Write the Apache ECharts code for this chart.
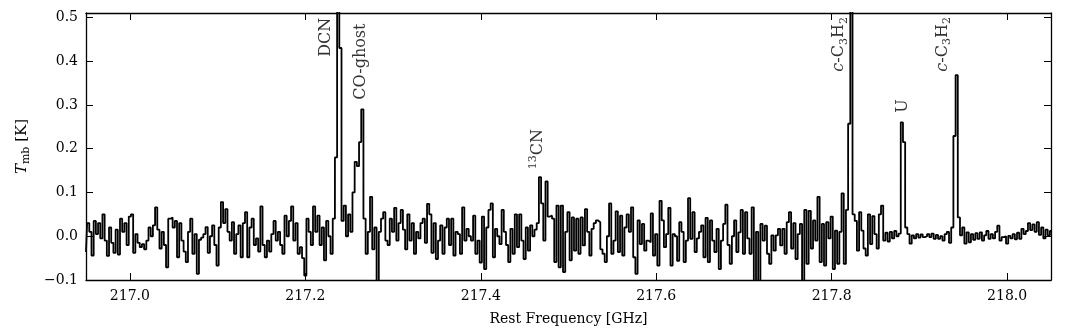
<!DOCTYPE html>
<html>
<head>
<meta charset="utf-8">
<script src="https://cdn.jsdelivr.net/npm/echarts@6/dist/echarts.min.js"></script>
<style>
  html, body { margin: 0; padding: 0; background: #fff; }
  #spectrum { width: 1072px; height: 331px; }
</style>
</head>
<body>
<div id="spectrum"></div>
<script>
// channel grid of the spectrum (GHz)
var freqStart = 216.95;
var channelWidth = 0.0025;

// main-beam temperature per channel (K)
var tmb = [
  -0.036, 0.030, 0.010, -0.044, 0.035, 0.005, 0.030, -0.005, 0.050, -0.010,
  -0.045, 0.020, -0.015, -0.038, 0.015, -0.042, 0.040, 0.010, 0.030, -0.020,
  0.045, 0.050, -0.038, 0.005, -0.015, -0.025, -0.018, -0.030, -0.010, 0.020,
  0.000, 0.025, 0.066, 0.015, -0.028, 0.010, -0.020, -0.071, 0.040, 0.043,
  0.020, 0.035, -0.048, 0.030, -0.010, -0.035, -0.059, 0.010, 0.040, -0.040,
  0.005, -0.086, -0.008, -0.003, 0.005, 0.021, -0.038, 0.000, 0.025, -0.020,
  -0.067, 0.020, 0.078, 0.030, 0.062, 0.010, -0.010, 0.032, -0.040, 0.005,
  0.025, -0.048, 0.030, 0.055, -0.048,
  0.020, 0.040, -0.020, -0.005, -0.035, 0.068, -0.020, -0.048, -0.010, -0.035,
  0.005, 0.035, -0.010, 0.010, -0.020, -0.040, 0.047, 0.000, 0.035, 0.068,
  -0.010, 0.030, -0.040, -0.025, -0.050, -0.090, 0.040, 0.010, -0.020, 0.068,
  0.010, 0.047, -0.020, 0.020, -0.055, 0.035, 0.000, -0.040, 0.040, 0.180,
  0.650, 0.430, 0.035, 0.070, 0.000, 0.050, 0.010, 0.100, 0.170, 0.160,
  0.215, 0.290, 0.040, -0.040, 0.010, 0.090, -0.030, 0.020, -0.130, 0.010,
  0.040, 0.055, -0.010, -0.020, 0.040, 0.010, 0.065, -0.010, 0.030, 0.060,
  0.015, -0.030, 0.050, -0.010, 0.030,
  -0.040, 0.010, -0.005, 0.030, 0.040, -0.015, 0.074, 0.050, -0.038, 0.030,
  -0.052, -0.010, 0.025, -0.040, 0.020, 0.040, -0.020, 0.040, -0.044, 0.010,
  0.005, -0.040, 0.066, -0.010, 0.017, 0.000, -0.010, 0.047, -0.040, -0.010,
  -0.060, 0.045, -0.075, 0.020, 0.060, 0.075, -0.048, 0.017, 0.000, -0.018,
  0.060, 0.010, -0.020, -0.059, 0.017, -0.040, 0.050, -0.025, 0.050, -0.010,
  -0.052, 0.020, -0.033, 0.025, 0.000, 0.015, 0.030, 0.135, 0.075, -0.010,
  0.125, 0.045, 0.047, 0.040, -0.059, 0.070, -0.071, 0.070, -0.082, 0.010,
  0.055, -0.055, 0.043, -0.033,
  0.040, -0.040, 0.043, -0.021, 0.062, 0.010, -0.044, 0.017, 0.030, 0.036,
  0.032, -0.030, -0.040, -0.059, 0.000, 0.075, -0.040, -0.010, 0.057, -0.036,
  0.047, -0.044, 0.020, 0.050, 0.010, 0.066, -0.048, -0.086, 0.036, -0.018,
  0.028, -0.033, -0.010, -0.014, 0.052, -0.044, 0.005, -0.067, 0.081, 0.036,
  -0.025, 0.005, 0.065, -0.067, 0.005, 0.000, -0.056, 0.032, 0.010, -0.059,
  -0.010, 0.087, -0.006, 0.055, -0.036, -0.005, 0.010, 0.025, -0.048, 0.042,
  -0.059, 0.036, -0.010, -0.036, 0.017, -0.075, -0.010, 0.028, 0.072, -0.020,
  -0.063, 0.000, 0.036, -0.036, 0.009,
  0.060, -0.040, 0.055, -0.005, -0.040, 0.066, -0.120, 0.010, -0.120, 0.028,
  -0.010, 0.024, -0.040, -0.063, 0.002, -0.033, 0.002, 0.017, -0.021, 0.017,
  -0.040, 0.032, 0.055, -0.028, 0.030, -0.052, 0.005, 0.028, -0.115, 0.060,
  -0.063, 0.058, -0.028, 0.036, -0.010, 0.090, -0.059, 0.028, -0.067, 0.032,
  -0.005, 0.045, -0.075, 0.013, -0.063, 0.010, 0.098, -0.063, 0.060, 0.257,
  0.700, 0.050, 0.035, -0.033, 0.055, 0.013, -0.028, -0.044, 0.050, -0.018,
  0.046, 0.005, -0.028, 0.050, 0.070, -0.010, 0.008, -0.012, 0.010, -0.005,
  0.012, 0.000, 0.006, 0.260, 0.215,
  0.020, 0.005, -0.017, 0.002, -0.005, 0.005, -0.003, 0.004, -0.002, 0.000,
  0.005, -0.002, 0.006, -0.006, 0.003, -0.006, 0.000, -0.010, 0.005, 0.010,
  -0.015, 0.020, 0.229, 0.368, 0.043, 0.002, 0.020, -0.017, 0.009, -0.014,
  0.005, -0.008, 0.007, -0.006, 0.009, -0.010, 0.002, 0.012, -0.006, 0.005,
  -0.005, 0.010, 0.024, -0.010, -0.002, 0.000, -0.017, 0.001, -0.005, 0.005,
  -0.007, 0.008, -0.006, 0.017, 0.005, 0.012, 0.030, 0.014, 0.027, 0.010,
  0.032, 0.003, 0.020, -0.005, 0.015, 0.002, 0.012
];

// axis ticks
var xTicks = [217.0, 217.2, 217.4, 217.6, 217.8, 218.0];
var yTicks = [-0.1, 0.0, 0.1, 0.2, 0.3, 0.4, 0.5];

// line identifications: label text, frequency (GHz), label foot (K)
var lineLabels = ["DCN", "CO-ghost", "{sup|13}CN", "{it|c}-C{sub|3}H{sub|2}", "U", "{it|c}-C{sub|3}H{sub|2}"];
var lineFreqs = [217.2237, 217.2637, 217.4648, 217.8086, 217.8808, 217.9265];
var labelFeet = [0.41, 0.312, 0.153, 0.376, 0.282, 0.376];

var serif = "DejaVu Serif";

function fmtTick(v, d) {
  return v.toFixed(d).replace("-", "\u2212");
}

var spectrumData = tmb.map(function (v, i) {
  return [freqStart + i * channelWidth, v];
});

var labelData = lineLabels.map(function (t, i) {
  return { value: [lineFreqs[i], labelFeet[i]], name: t };
});

var richText = {
  sup: { fontFamily: serif, fontSize: 11, verticalAlign: "top", lineHeight: 20, color: "#000" },
  sub: { fontFamily: serif, fontSize: 11, verticalAlign: "bottom", lineHeight: 20, color: "#000" },
  it: { fontFamily: serif, fontSize: 16, fontStyle: "italic", lineHeight: 20, color: "#000" }
};

var myChart = echarts.init(document.getElementById("spectrum"), null, { renderer: "canvas" });

var axisLineStyle = { color: "#000", width: 1.3 };

var option = {
  animation: false,
  backgroundColor: "#fff",
  grid: { left: 86, right: 21, top: 13, bottom: 50 },
  xAxis: [
    {
      type: "value",
      min: 216.95,
      max: 218.05,
      name: "Rest Frequency [GHz]",
      nameLocation: "middle",
      nameGap: 32,
      nameTextStyle: { fontFamily: serif, fontSize: 14, color: "#000" },
      axisLine: { show: true, onZero: false, lineStyle: axisLineStyle },
      axisTick: { show: true, inside: true, length: 7, customValues: xTicks, lineStyle: { color: "#000" } },
      axisLabel: {
        customValues: xTicks,
        margin: 9,
        fontFamily: serif,
        fontSize: 14,
        color: "#000",
        formatter: function (v) { return fmtTick(v, 1); }
      },
      splitLine: { show: false }
    },
    {
      type: "value",
      position: "top",
      min: 216.95,
      max: 218.05,
      axisLine: { show: true, onZero: false, lineStyle: axisLineStyle },
      axisTick: { show: true, inside: true, length: 7, customValues: xTicks, lineStyle: { color: "#000" } },
      axisLabel: { show: false },
      splitLine: { show: false }
    }
  ],
  yAxis: [
    {
      type: "value",
      min: -0.1,
      max: 0.51,
      name: "{it|T}{sub|mb} [K]",
      nameLocation: "middle",
      nameGap: 54,
      nameTextStyle: { fontFamily: serif, fontSize: 15, color: "#000", rich: {
        it: { fontFamily: serif, fontSize: 15, fontStyle: "italic", color: "#000", lineHeight: 19 },
        sub: { fontFamily: serif, fontSize: 11, verticalAlign: "bottom", color: "#000", lineHeight: 19 }
      } },
      axisLine: { show: true, onZero: false, lineStyle: axisLineStyle },
      axisTick: { show: true, inside: true, length: 7, customValues: yTicks, lineStyle: { color: "#000" } },
      axisLabel: {
        customValues: yTicks,
        margin: 8,
        fontFamily: serif,
        fontSize: 14,
        color: "#000",
        formatter: function (v) { return fmtTick(v, 1); }
      },
      splitLine: { show: false }
    },
    {
      type: "value",
      position: "right",
      min: -0.1,
      max: 0.51,
      axisLine: { show: true, onZero: false, lineStyle: axisLineStyle },
      axisTick: { show: true, inside: true, length: 7, customValues: yTicks, lineStyle: { color: "#000" } },
      axisLabel: { show: false },
      splitLine: { show: false }
    }
  ],
  series: [
    {
      name: "spectrum",
      type: "line",
      xAxisIndex: 0,
      yAxisIndex: 0,
      data: spectrumData,
      step: "middle",
      showSymbol: false,
      clip: true,
      lineStyle: { color: "#000", width: 1.8 }
    },
    {
      name: "lines",
      type: "scatter",
      xAxisIndex: 0,
      yAxisIndex: 0,
      data: labelData,
      symbolSize: 0,
      silent: true,
      label: {
        show: true,
        position: "inside",
        rotate: 90,
        align: "left",
        verticalAlign: "middle",
        fontFamily: serif,
        fontSize: 16,
        lineHeight: 20,
        color: "#000",
        rich: richText,
        formatter: function (p) { return p.name; }
      }
    }
  ]
};

myChart.setOption(option);
</script>
</body>
</html>
